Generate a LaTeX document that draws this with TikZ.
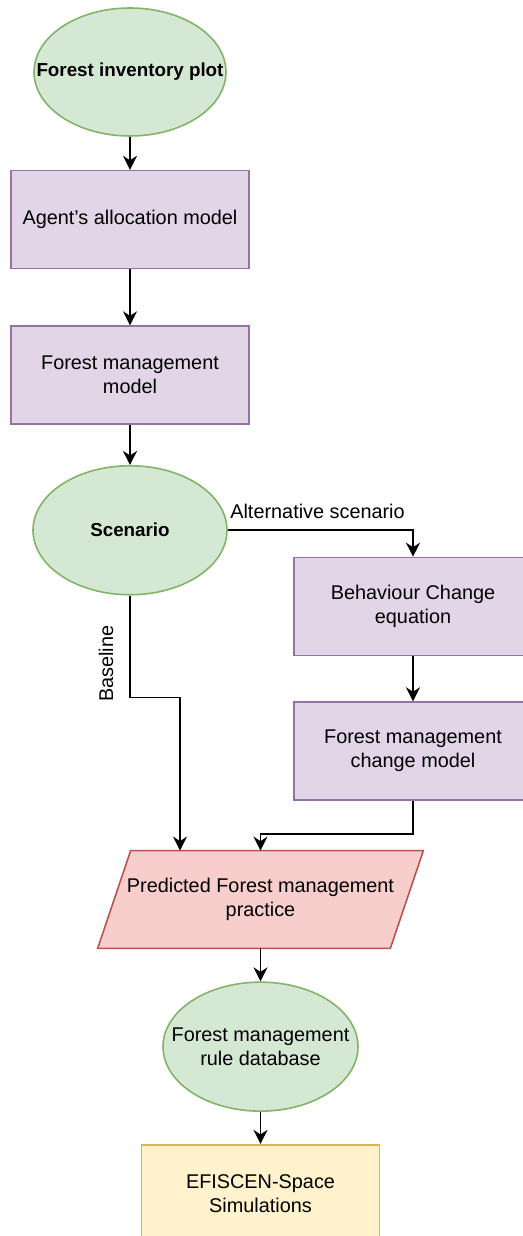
\documentclass[tikz,border=0pt]{standalone}
\usepackage{fontspec}
\setmainfont{Liberation Sans}
\usetikzlibrary{shapes.geometric,arrows.meta,positioning,backgrounds}
\definecolor{ovalgreen}{HTML}{D5E8D4}
\definecolor{ovalline}{HTML}{82B366}
\definecolor{procpurple}{HTML}{E1D5E7}
\definecolor{procline}{HTML}{9673A6}
\definecolor{iored}{HTML}{F8CECC}
\definecolor{ioline}{HTML}{B85450}
\definecolor{simyellow}{HTML}{FFF2CC}
\definecolor{simline}{HTML}{D6B656}
\tikzset{
  proc style/.style={rectangle, draw=procline, fill=procpurple, line width=0.9pt,
    minimum width=4.76cm, minimum height=1.96cm, align=center},
  sim style/.style={rectangle, draw=simline, fill=simyellow, line width=0.9pt,
    minimum width=4.76cm, minimum height=1.96cm, align=center},
  oval style/.style={ellipse, draw=ovalline, fill=ovalgreen, line width=0.9pt,
    minimum width=3.88cm, minimum height=2.58cm, inner sep=0pt},
  io style/.style={draw=ioline, fill=iored, line width=0.9pt},
  arr style/.style={-{Stealth[length=8pt,width=8pt]}, line width=0.9pt}
}

\begin{document}
\begin{tikzpicture}[font=\fontsize{11.3}{13.6}\selectfont]
\useasboundingbox (0,0) rectangle (10.46,-24.72);
\clip (0,0) rectangle (10.46,-24.72);
% main column
\node[oval style, minimum width=3.84cm, minimum height=2.56cm,
  label={center:\fontsize{10.7}{13}\selectfont\bfseries Forest inventory plot}] (plot) at (2.6,-1.44) {};
\node[proc style, below=0.66cm of plot] (agent) {Agent's allocation model};
\node[proc style, below=1.12cm of agent] (fmm) {Forest management\\model};
\node[oval style, below=0.8cm of fmm,
  label={center:\fontsize{10.7}{13}\selectfont\bfseries Scenario}] (scen) {};
% alternative branch
\node[proc style] (behav) at (8.26,-12.13) {Behaviour Change\\equation};
\node[proc style, below=0.9cm of behav] (fmcm) {Forest management\\change model};
% output
\node[minimum width=5.84cm, minimum height=1.94cm, inner sep=0pt, align=center] (practice) at (5.21,-17.99)
  {Predicted Forest management\\practice};
\begin{scope}[on background layer]
\draw[io style] ([xshift=-0.33cm]practice.south west) -- ([xshift=0.33cm]practice.north west)
  -- ([xshift=0.33cm]practice.north east) -- ([xshift=-0.33cm]practice.south east) -- cycle;
\end{scope}
\node[oval style, minimum width=3.9cm, below=0.66cm of practice, align=center,
  label={[align=center]center:Forest management\\rule database}] (rule) {};
\node[sim style, below=0.64cm of rule] (efiscen) {EFISCEN-Space\\Simulations};
% connectors
\draw[arr style] (plot) -- (agent);
\draw[arr style] (agent) -- (fmm);
\draw[arr style] (fmm) -- (scen);
\draw[arr style] (scen.east) -| node[pos=0, anchor=south west, inner sep=0pt, xshift=1pt, yshift=6pt]
  {Alternative scenario} (behav.north);
\draw[arr style] (behav) -- (fmcm);
\draw[arr style] (scen.south) -- node[pos=0.67, rotate=90, anchor=south, inner xsep=0pt, inner ysep=9pt]
  {Baseline} ++(0,-2.04) -| ([xshift=-1.61cm]practice.north);
\draw[arr style] (fmcm.south) -- ++(0,-0.66) -| (practice.north);
\draw[arr style] (practice) -- (rule);
\draw[arr style] (rule) -- (efiscen);
\end{tikzpicture}
\end{document}
